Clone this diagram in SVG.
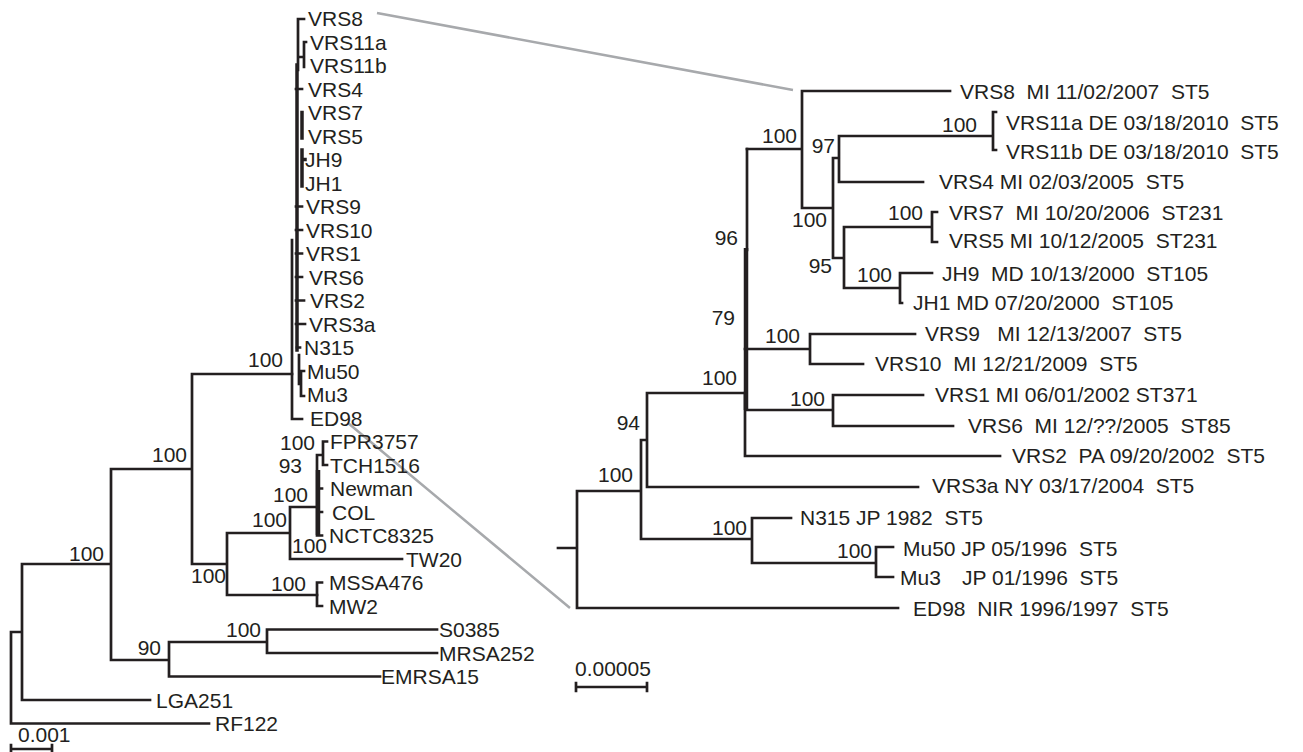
<svg xmlns="http://www.w3.org/2000/svg" width="1303" height="752" viewBox="0 0 1303 752" xml:space="preserve">
<style>
text{font-family:"Liberation Sans",Arial,sans-serif;font-size:21px;fill:#231f20;white-space:pre}
.br{fill:none;stroke:#231f20;stroke-width:2.7;stroke-linecap:square}
.thk{fill:none;stroke:#231f20;stroke-width:4.5}
.gr{fill:none;stroke:#a7a9ac;stroke-width:2.5}
.s{text-anchor:end}
</style>
<rect width="1303" height="752" fill="#fff"/>
<g id="connectors">
<!-- zoom lines -->
<path class="gr" d="M377,13 L793,90 M348,423 L570,608"/>
<!-- left tree -->
<path class="br" d="M11,632 V723.5 H209 M11,632 H22 M22,564 V700 H150 M22,564 H111 M111,469 V660 H169 M169,642 V676.5 H380 M169,642 H267 M267,629.5 V653 M267,629.5 H437 M267,653 H437 M111,469 H192 M192,374 V564 H227 M192,374 H292 M227,533 V595 H317 M227,533 H290 M290,507 V559 H402 M290,507 H317"/>
<path class="br" d="M317,455 V535.5 M317,455 H323 M323,441.5 V465 M323,441.5 H327 M323,465 H327 M317,488.5 H322 M317,512 H322 M317,535.5 H322 M317,582.5 V606 M317,582.5 H322 M317,606 H322"/>
<path class="thk" d="M318,470 V535"/>
<path class="br" d="M298,19 V70 M298,19 H304 M304,42 V67 M298,57 H304 M304,42 H306 M296,89 H302 M296,206.5 H302 M296,230 H302 M296,253.5 H302 M296,277 H302 M296,300.5 H304 M296,324 H305 M297,347.5 H300 M301,371 V396 M301,371 H304 M301,396 H304 M299,355 V384 M299,384 H301 M292,240 V419 H302"/>
<path class="br" style="stroke-width:3.5" d="M297,65 V350 M302,112.5 V138 M302,150 V186 M302,159.5 H305"/>
<!-- right tree -->
<path class="br" d="M577,491 V608 H898 M558,548 H577 M577,491 H641 M641,440 V539 H752 M641,440 H647 M647,393 V487 H918 M647,393 H745 M752,518 V563 M752,518 H791 M752,563 H876 M876,547 V577 M876,547 H893 M876,577 H893"/>
<path class="br" d="M747,149 V250 M745,393 V456 H1000 M745,349 H810 M810,334 V364 M810,334 H915 M810,364 H863 M745,410 H833 M833,395 V426 M833,395 H923 M833,426 H953"/>
<path class="thk" d="M746,248 V410"/>
<path class="br" d="M747,149 H802 M802,91 V208 M802,91 H950 M802,208 H833 M833,158 V258 M833,158 H839 M839,136 V182 M839,136 H993 M839,182 H923 M993,112 V150 M993,112 H996 M993,150 H996 M833,258 H844 M844,227 V288 M844,227 H932 M932,212 V242 M932,212 H937 M932,242 H937 M844,288 H900 M900,273 V303 M900,273 H932 M900,303 H902"/>
<!-- scale bars -->
<path class="br" d="M11,749 H52 M11,745 V752 M52,745 V752 M576,687 H647 M576,683 V691 M647,683 V691"/>
</g>
<g id="left-leaves">
<g id="L-VRS8"><text x="308" y="26">VRS8</text></g>
<g id="L-VRS11a"><text x="310" y="49.5">VRS11a</text></g>
<g id="L-VRS11b"><text x="310" y="73">VRS11b</text></g>
<g id="L-VRS4"><text x="308" y="96.5">VRS4</text></g>
<g id="L-VRS7"><text x="308" y="120">VRS7</text></g>
<g id="L-VRS5"><text x="308" y="143.5">VRS5</text></g>
<g id="L-JH9"><text x="305" y="167">JH9</text></g>
<g id="L-JH1"><text x="305" y="190.5">JH1</text></g>
<g id="L-VRS9"><text x="306" y="214">VRS9</text></g>
<g id="L-VRS10"><text x="306" y="237.5">VRS10</text></g>
<g id="L-VRS1"><text x="306" y="261">VRS1</text></g>
<g id="L-VRS6"><text x="309" y="284.5">VRS6</text></g>
<g id="L-VRS2"><text x="310" y="308">VRS2</text></g>
<g id="L-VRS3a"><text x="309" y="331.5">VRS3a</text></g>
<g id="L-N315"><text x="304" y="355">N315</text></g>
<g id="L-Mu50"><text x="307" y="378.5">Mu50</text></g>
<g id="L-Mu3"><text x="307" y="402">Mu3</text></g>
<g id="L-ED98"><text x="310" y="425.5">ED98</text></g>
<g id="L-FPR3757"><text x="330" y="449">FPR3757</text></g>
<g id="L-TCH1516"><text x="330" y="472.5">TCH1516</text></g>
<g id="L-Newman"><text x="330" y="496">Newman</text></g>
<g id="L-COL"><text x="332" y="519.5">COL</text></g>
<g id="L-NCTC8325"><text x="329" y="543">NCTC8325</text></g>
<g id="L-TW20"><text x="406" y="566.5">TW20</text></g>
<g id="L-MSSA476"><text x="329" y="590">MSSA476</text></g>
<g id="L-MW2"><text x="329" y="613.5">MW2</text></g>
<g id="L-S0385"><text x="439" y="637">S0385</text></g>
<g id="L-MRSA252"><text x="439" y="660.5">MRSA252</text></g>
<g id="L-EMRSA15"><text x="381" y="684">EMRSA15</text></g>
<g id="L-LGA251"><text x="156" y="707.5">LGA251</text></g>
<g id="L-RF122"><text x="215" y="731">RF122</text></g>
</g>
<g id="left-support">
<text class="s" x="283" y="367">100</text>
<text class="s" x="187" y="462">100</text>
<text class="s" x="315" y="450">100</text>
<text class="s" x="302" y="473">93</text>
<text class="s" x="308" y="502">100</text>
<text class="s" x="287" y="527">100</text>
<text x="292" y="553">100</text>
<text x="191" y="583">100</text>
<text class="s" x="306" y="591">100</text>
<text class="s" x="104" y="561">100</text>
<text class="s" x="161" y="655">90</text>
<text class="s" x="261" y="637">100</text>
<text x="18" y="742">0.001</text>
</g>
<g id="right-leaves">
<g id="R-VRS8"><text x="960" y="98.5">VRS8  MI 11/02/2007  ST5</text></g>
<g id="R-VRS11a"><text x="1006" y="129.5">VRS11a DE 03/18/2010  ST5</text></g>
<g id="R-VRS11b"><text x="1006" y="158.5">VRS11b DE 03/18/2010  ST5</text></g>
<g id="R-VRS4"><text x="939" y="188.5">VRS4 MI 02/03/2005  ST5</text></g>
<g id="R-VRS7"><text x="949" y="219.5">VRS7  MI 10/20/2006  ST231</text></g>
<g id="R-VRS5"><text x="949" y="247.5">VRS5 MI 10/12/2005  ST231</text></g>
<g id="R-JH9"><text x="942" y="280.5">JH9  MD 10/13/2000  ST105</text></g>
<g id="R-JH1"><text x="913" y="309.5">JH1 MD 07/20/2000  ST105</text></g>
<g id="R-VRS9"><text x="925" y="340.5">VRS9   MI 12/13/2007  ST5</text></g>
<g id="R-VRS10"><text x="875" y="370.5">VRS10  MI 12/21/2009  ST5</text></g>
<g id="R-VRS1"><text x="935" y="401.5">VRS1 MI 06/01/2002 ST371</text></g>
<g id="R-VRS6"><text x="968" y="432.5">VRS6  MI 12/??/2005  ST85</text></g>
<g id="R-VRS2"><text x="1012" y="462.5">VRS2  PA 09/20/2002  ST5</text></g>
<g id="R-VRS3a"><text x="932" y="492.5">VRS3a NY 03/17/2004  ST5</text></g>
<g id="R-N315"><text x="800" y="524.5">N315 JP 1982  ST5</text></g>
<g id="R-Mu50"><text x="903" y="555.5">Mu50 JP 05/1996  ST5</text></g>
<g id="R-Mu3"><text x="900" y="584.5">Mu3<tspan x="962">JP 01/1996  ST5</tspan></text></g>
<g id="R-ED98"><text x="913" y="615.5">ED98  NIR 1996/1997  ST5</text></g>
</g>
<g id="right-support">
<text class="s" x="797" y="143">100</text>
<text class="s" x="835" y="153">97</text>
<text class="s" x="977" y="132">100</text>
<text class="s" x="827" y="227">100</text>
<text class="s" x="923" y="220">100</text>
<text class="s" x="832" y="273">95</text>
<text class="s" x="892" y="282">100</text>
<text class="s" x="738" y="245">96</text>
<text class="s" x="735" y="325">79</text>
<text class="s" x="800" y="343">100</text>
<text class="s" x="737" y="385">100</text>
<text class="s" x="825" y="406">100</text>
<text class="s" x="640" y="430">94</text>
<text class="s" x="633" y="482">100</text>
<text class="s" x="747" y="535">100</text>
<text class="s" x="872" y="558">100</text>
<text x="575" y="676">0.00005</text>
</g>
</svg>
